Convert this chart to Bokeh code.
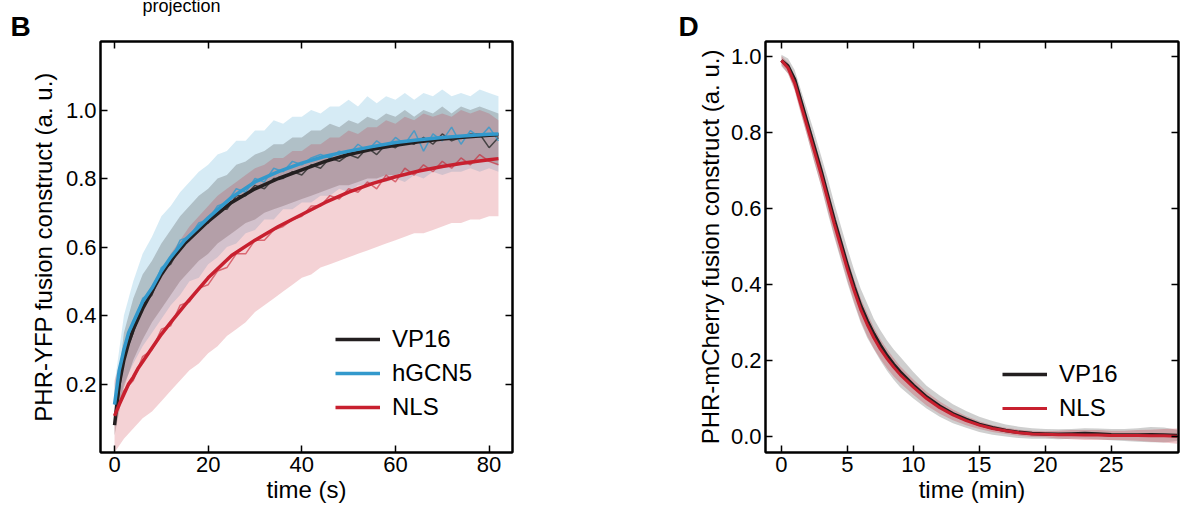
from bokeh.plotting import figure
from bokeh.models import (Range1d, FixedTicker, LinearAxis, Legend, LegendItem,
                          PrintfTickFormatter, CustomJSTickFormatter, Title)
from bokeh.layouts import row
from bokeh.embed import file_html
from bokeh.resources import INLINE

FONT = "Liberation Sans"

# ---------------- Panel B data ----------------
time_b = [0, 2, 4, 6, 8, 10, 12, 14, 16, 18, 20, 22, 24, 26, 28, 30, 32, 34, 36, 38, 40,
          42, 44, 46, 48, 50, 52, 54, 56, 58, 60, 62, 64, 66, 68, 70, 72, 74, 76, 78, 80, 82]

vp16_trace = [0.08, 0.28, 0.35, 0.43, 0.46, 0.53, 0.55, 0.60, 0.62, 0.66, 0.67, 0.71, 0.71, 0.75,
              0.75, 0.78, 0.77, 0.80, 0.80, 0.82, 0.81, 0.84, 0.83, 0.86, 0.85, 0.87, 0.86, 0.89,
              0.87, 0.90, 0.89, 0.91, 0.90, 0.92, 0.90, 0.93, 0.91, 0.92, 0.93, 0.93, 0.89, 0.92]
hgcn5_trace = [0.14, 0.31, 0.37, 0.45, 0.47, 0.54, 0.56, 0.62, 0.63, 0.67, 0.68, 0.72, 0.73, 0.77,
               0.76, 0.80, 0.79, 0.83, 0.82, 0.85, 0.84, 0.86, 0.87, 0.86, 0.88, 0.87, 0.90, 0.88,
               0.91, 0.89, 0.92, 0.90, 0.94, 0.88, 0.93, 0.91, 0.95, 0.90, 0.94, 0.92, 0.95, 0.91]
nls_trace = [0.107, 0.18, 0.21, 0.28, 0.30, 0.36, 0.37, 0.43, 0.44, 0.48, 0.49, 0.53, 0.54, 0.58,
             0.58, 0.62, 0.62, 0.65, 0.66, 0.68, 0.69, 0.72, 0.72, 0.75, 0.74, 0.77, 0.76, 0.79,
             0.77, 0.81, 0.79, 0.83, 0.81, 0.84, 0.82, 0.85, 0.83, 0.86, 0.84, 0.87, 0.85, 0.84]

hgcn5_hi = [0.20, 0.40, 0.50, 0.58, 0.63, 0.69, 0.72, 0.76, 0.79, 0.82, 0.84, 0.87, 0.88, 0.91,
            0.91, 0.94, 0.94, 0.97, 0.96, 0.98, 0.98, 1.00, 0.99, 1.01, 1.01, 1.03, 1.01, 1.04,
            1.02, 1.04, 1.03, 1.05, 1.03, 1.05, 1.04, 1.06, 1.04, 1.05, 1.04, 1.06, 1.05, 1.04]
hgcn5_lo = [0.08, 0.20, 0.26, 0.31, 0.35, 0.39, 0.43, 0.46, 0.50, 0.51, 0.55, 0.57, 0.60, 0.61,
            0.64, 0.65, 0.68, 0.68, 0.71, 0.71, 0.73, 0.73, 0.75, 0.75, 0.77, 0.76, 0.78, 0.78,
            0.79, 0.79, 0.80, 0.79, 0.81, 0.80, 0.82, 0.81, 0.82, 0.82, 0.83, 0.82, 0.83, 0.82]
vp16_hi = [0.12, 0.35, 0.45, 0.52, 0.56, 0.61, 0.65, 0.69, 0.72, 0.75, 0.77, 0.80, 0.81, 0.84,
           0.85, 0.87, 0.88, 0.90, 0.90, 0.92, 0.92, 0.94, 0.94, 0.96, 0.95, 0.97, 0.96, 0.98,
           0.97, 0.99, 0.98, 1.00, 0.98, 1.00, 0.99, 1.01, 0.99, 1.01, 1.00, 1.01, 1.00, 0.99]
vp16_lo = [0.05, 0.19, 0.27, 0.33, 0.38, 0.42, 0.46, 0.50, 0.53, 0.56, 0.58, 0.61, 0.63, 0.65,
           0.67, 0.68, 0.70, 0.71, 0.72, 0.73, 0.74, 0.75, 0.76, 0.77, 0.78, 0.78, 0.79, 0.80,
           0.80, 0.81, 0.81, 0.82, 0.82, 0.83, 0.83, 0.83, 0.84, 0.84, 0.84, 0.85, 0.85, 0.84]
nls_hi = [0.21, 0.30, 0.37, 0.43, 0.49, 0.53, 0.58, 0.62, 0.66, 0.69, 0.72, 0.75, 0.77, 0.79,
          0.81, 0.83, 0.84, 0.86, 0.86, 0.88, 0.88, 0.90, 0.90, 0.92, 0.92, 0.94, 0.93, 0.95,
          0.95, 0.97, 0.96, 0.98, 0.97, 0.99, 0.98, 0.99, 0.98, 1.00, 0.99, 1.00, 0.99, 0.97]
nls_lo = [0.00, 0.04, 0.07, 0.10, 0.12, 0.15, 0.18, 0.21, 0.24, 0.26, 0.29, 0.31, 0.34, 0.36,
          0.38, 0.41, 0.43, 0.45, 0.47, 0.49, 0.51, 0.52, 0.54, 0.55, 0.56, 0.57, 0.58, 0.59,
          0.60, 0.61, 0.62, 0.63, 0.64, 0.64, 0.65, 0.66, 0.67, 0.67, 0.68, 0.68, 0.69, 0.69]

time_fit = [0, 1, 2, 3, 4, 5, 6, 8, 10, 12, 15, 20, 25, 30, 35, 40, 45, 50, 55, 60, 65, 70, 75, 80, 82]
vp16_fit = [0.08, 0.20, 0.27, 0.32, 0.36, 0.39, 0.42, 0.47, 0.52, 0.56, 0.61, 0.675, 0.73, 0.77,
            0.80, 0.825, 0.85, 0.87, 0.885, 0.897, 0.907, 0.915, 0.921, 0.926, 0.928]
hgcn5_fit = [0.14, 0.24, 0.30, 0.35, 0.38, 0.41, 0.44, 0.48, 0.53, 0.57, 0.62, 0.685, 0.745, 0.79,
             0.82, 0.845, 0.865, 0.88, 0.893, 0.905, 0.913, 0.92, 0.925, 0.929, 0.93]
nls_fit = [0.107, 0.14, 0.17, 0.20, 0.22, 0.245, 0.265, 0.305, 0.345, 0.38, 0.43, 0.51, 0.575, 0.62,
           0.66, 0.695, 0.73, 0.76, 0.785, 0.805, 0.822, 0.835, 0.846, 0.855, 0.858]

b_xticks = [0, 20, 40, 60, 80]
b_yticks = [0.2, 0.4, 0.6, 0.8, 1.0]

# ---------------- Panel D data ----------------
time_d = [0, 0.5, 1, 1.5, 2, 2.5, 3, 3.5, 4, 4.5, 5, 5.5, 6, 6.5, 7, 7.5, 8, 8.5, 9,
          10, 11, 12, 13, 14, 15, 16, 17, 18, 19, 20, 21, 22, 23, 24, 25, 26, 27, 28, 29, 30]
vp16_d = [0.99, 0.975, 0.94, 0.88, 0.82, 0.76, 0.70, 0.635, 0.57, 0.51, 0.45, 0.395, 0.345, 0.305,
          0.27, 0.24, 0.213, 0.19, 0.17, 0.135, 0.104, 0.08, 0.06, 0.045, 0.032, 0.023, 0.016,
          0.011, 0.008, 0.007, 0.006, 0.007, 0.008, 0.007, 0.005, 0.004, 0.004, 0.005, 0.004, 0.003]
vp16_d_hi = [1.005, 0.995, 0.965, 0.91, 0.855, 0.80, 0.74, 0.68, 0.615, 0.555, 0.495, 0.44, 0.39,
             0.35, 0.31, 0.28, 0.253, 0.23, 0.21, 0.17, 0.134, 0.108, 0.085, 0.067, 0.052, 0.041,
             0.032, 0.026, 0.022, 0.02, 0.019, 0.02, 0.022, 0.021, 0.02, 0.02, 0.022, 0.025, 0.024, 0.018]
vp16_d_lo = [0.975, 0.955, 0.915, 0.85, 0.785, 0.72, 0.66, 0.59, 0.525, 0.465, 0.405, 0.35, 0.30,
             0.26, 0.23, 0.20, 0.173, 0.15, 0.13, 0.10, 0.074, 0.052, 0.035, 0.023, 0.012, 0.005,
             0.0, -0.004, -0.006, -0.006, -0.007, -0.006, -0.006, -0.007, -0.01, -0.012, -0.014,
             -0.015, -0.016, -0.012]
nls_d = [0.99, 0.97, 0.93, 0.87, 0.81, 0.75, 0.69, 0.625, 0.56, 0.50, 0.44, 0.385, 0.335, 0.295,
         0.26, 0.23, 0.205, 0.183, 0.163, 0.13, 0.10, 0.076, 0.057, 0.042, 0.03, 0.021, 0.015,
         0.01, 0.007, 0.006, 0.005, 0.005, 0.004, 0.004, 0.003, 0.003, 0.003, 0.002, 0.002, 0.001]
nls_d_hi = [1.002, 0.985, 0.95, 0.895, 0.835, 0.778, 0.72, 0.655, 0.59, 0.53, 0.47, 0.415, 0.365,
            0.325, 0.288, 0.256, 0.23, 0.207, 0.185, 0.15, 0.118, 0.092, 0.071, 0.054, 0.04, 0.03,
            0.023, 0.018, 0.015, 0.014, 0.015, 0.017, 0.017, 0.017, 0.015, 0.015, 0.017, 0.018, 0.02, 0.021]
nls_d_lo = [0.978, 0.955, 0.91, 0.845, 0.785, 0.722, 0.66, 0.595, 0.53, 0.47, 0.41, 0.355, 0.305,
            0.265, 0.232, 0.204, 0.18, 0.159, 0.141, 0.11, 0.082, 0.06, 0.043, 0.03, 0.02, 0.012,
            0.007, 0.002, -0.001, -0.002, -0.005, -0.007, -0.009, -0.009, -0.009, -0.009, -0.011,
            -0.014, -0.016, -0.019]

d_xticks = [0, 5, 10, 15, 20, 25]
d_yticks = [0.0, 0.2, 0.4, 0.6, 0.8, 1.0]

BLACK = "#231f20"
BLUE = "#3399cc"
RED = "#c8202f"
GREY = "#404040"

TICK_SIZE = "22px"
LABEL_SIZE = "24px"


def style_axis(ax, ticks, show, fmt):
    ax.ticker = FixedTicker(ticks=ticks)
    ax.major_tick_in = 7
    ax.major_tick_out = 0
    ax.minor_tick_in = 0
    ax.minor_tick_out = 0
    ax.major_tick_line_width = 1.5
    ax.major_tick_line_color = "black"
    ax.axis_line_width = 2
    ax.axis_line_color = "black"
    ax.major_label_text_font = FONT
    ax.major_label_text_color = "black"
    ax.major_label_text_font_size = TICK_SIZE
    if show:
        ax.formatter = PrintfTickFormatter(format=fmt)
        ax.major_label_standoff = 4
    else:
        ax.formatter = CustomJSTickFormatter(code="return ''")
        ax.major_label_standoff = 0
    ax.axis_label_text_font = FONT
    ax.axis_label_text_font_style = "normal"
    ax.axis_label_text_font_size = LABEL_SIZE
    ax.axis_label_text_color = "black"


def make_fig(width, left, right, xr, yr, xticks, yticks, letter, letter_offset,
             xlabel, ylabel, ylabel_standoff, extra_text=None, extra_offset=0):
    p = figure(width=width, height=509, x_range=xr, y_range=yr,
               output_backend="svg", toolbar_location=None,
               min_border_left=left, min_border_right=right,
               min_border_top=39, min_border_bottom=57)
    p.grid.visible = False
    p.outline_line_color = "black"
    p.outline_line_width = 2
    p.background_fill_color = "white"
    p.border_fill_color = "white"
    xax = p.below[0]
    yax = p.left[0]
    style_axis(xax, xticks, True, "%d")
    style_axis(yax, yticks, True, "%.1f")
    xax.axis_label = xlabel
    xax.axis_label_standoff = 1
    yax.axis_label = ylabel
    yax.axis_label_standoff = ylabel_standoff
    top = LinearAxis()
    style_axis(top, xticks, False, None)
    p.add_layout(top, "above")
    rt = LinearAxis()
    style_axis(rt, yticks, False, None)
    p.add_layout(rt, "right")
    # panel letter, drawn just above the frame
    letter_title = Title(text=letter, align="left", offset=letter_offset, standoff=0,
                         text_font=FONT, text_font_size="28px", text_font_style="bold",
                         text_color="black", vertical_align="bottom")
    p.add_layout(letter_title, "above")
    # outermost title: fragment of the caption above the panel (cut by the page top)
    p.title.text = extra_text if extra_text else ""
    p.title.align = "left"
    p.title.offset = extra_offset
    p.title.standoff = -14
    p.title.vertical_align = "bottom"
    p.title.text_font = FONT
    p.title.text_font_size = "18px"
    p.title.text_font_style = "normal"
    p.title.text_color = "black"
    return p


# ---------------- Panel B ----------------
pb = make_fig(600, 100, 88, Range1d(-3, 85), Range1d(0, 1.2), b_xticks, b_yticks, "B", -90,
              "time (s)", "PHR-YFP fusion construct (a. u.)", 6,
              extra_text="projection", extra_offset=42)

pb.varea(x=time_b, y1=hgcn5_lo, y2=hgcn5_hi, fill_color=BLUE, fill_alpha=0.2)
pb.varea(x=time_b, y1=vp16_lo, y2=vp16_hi, fill_color=GREY, fill_alpha=0.25)
pb.varea(x=time_b, y1=nls_lo, y2=nls_hi, fill_color=RED, fill_alpha=0.2)

pb.line(time_b, vp16_trace, line_color="#333333", line_width=1.5, line_alpha=0.85)
pb.line(time_b, hgcn5_trace, line_color=BLUE, line_width=1.5, line_alpha=0.8)
pb.line(time_b, nls_trace, line_color=RED, line_width=1.5, line_alpha=0.6)

r_vp = pb.line(time_fit, vp16_fit, line_color=BLACK, line_width=3.5)
r_hg = pb.line(time_fit, hgcn5_fit, line_color=BLUE, line_width=3.5)
r_nl = pb.line(time_fit, nls_fit, line_color=RED, line_width=3.5)

leg_b = Legend(items=[LegendItem(label="VP16", renderers=[r_vp]),
                      LegendItem(label="hGCN5", renderers=[r_hg]),
                      LegendItem(label="NLS", renderers=[r_nl])],
               location=(235, 31))
pb.add_layout(leg_b)

# ---------------- Panel D ----------------
pd_ = make_fig(588, 165, 10, Range1d(-1.21, 30.1), Range1d(-0.042, 1.04), d_xticks, d_yticks, "D", -87,
               "time (min)", "PHR-mCherry fusion construct (a. u.)", 4)

pd_.varea(x=time_d, y1=vp16_d_lo, y2=vp16_d_hi, fill_color=GREY, fill_alpha=0.25)
pd_.varea(x=time_d, y1=nls_d_lo, y2=nls_d_hi, fill_color=RED, fill_alpha=0.25)
d_vp = pd_.line(time_d, vp16_d, line_color=BLACK, line_width=3.5)
d_nl = pd_.line(time_d, nls_d, line_color=RED, line_width=3)

leg_d = Legend(items=[LegendItem(label="VP16", renderers=[d_vp]),
                      LegendItem(label="NLS", renderers=[d_nl])],
               location=(237, 30))
pd_.add_layout(leg_d)

for leg in (leg_b, leg_d):
    leg.background_fill_alpha = 0
    leg.border_line_alpha = 0
    leg.padding = 0
    leg.margin = 0
    leg.spacing = 6
    leg.glyph_width = 45
    leg.glyph_height = 28
    leg.label_height = 28
    leg.label_standoff = 12
    leg.label_text_font = FONT
    leg.label_text_font_size = LABEL_SIZE
    leg.label_text_color = "black"

layout = row(pb, pd_)
open("out.html", "w").write(file_html(layout, INLINE))
